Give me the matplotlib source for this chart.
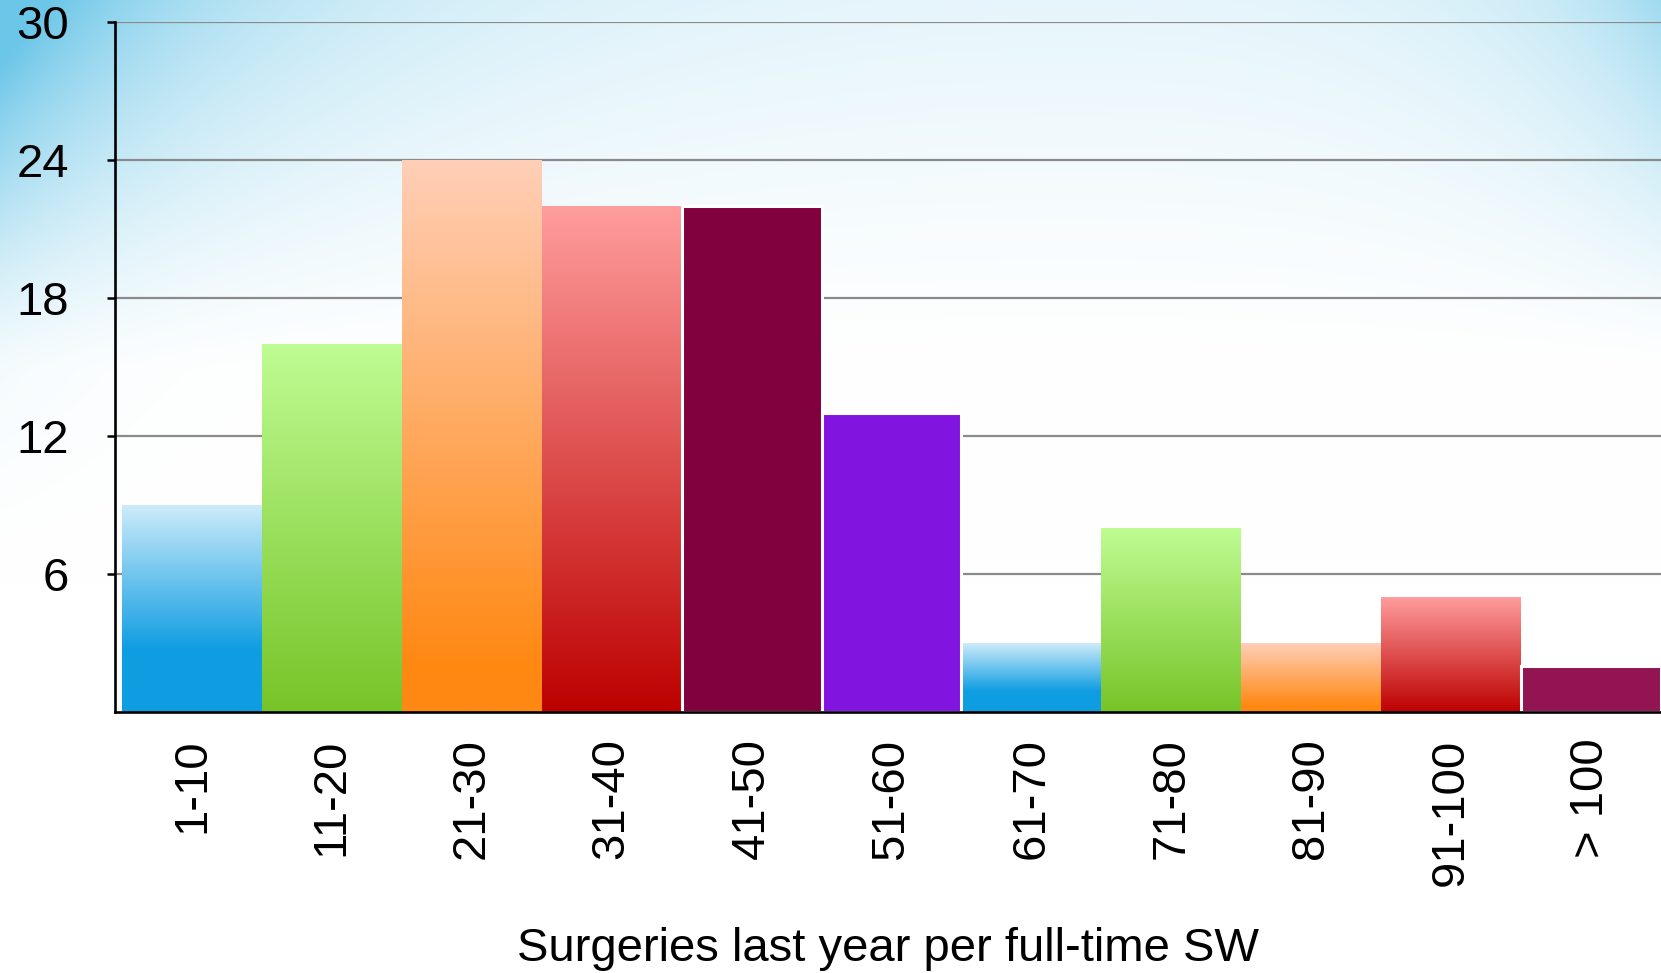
import numpy as np
import matplotlib
matplotlib.use("Agg")
import matplotlib.pyplot as plt
from matplotlib.colors import LinearSegmentedColormap, to_rgb

plt.rcParams['font.family'] = ['Liberation Sans', 'DejaVu Sans']

# data
categories = ['1-10', '11-20', '21-30', '31-40', '41-50', '51-60',
              '61-70', '71-80', '81-90', '91-100', '> 100']
counts = [9, 16, 24, 22, 22, 13, 3, 8, 3, 5, 2]
yticks = [6, 12, 18, 24, 30]
xlabel = 'Surgeries last year per full-time SW'

# fill styles: gradient (top, bottom, solid fraction) or a solid colour
gradients = {
    'blue': ('#cdebfa', '#0f9de2', 0.30),
    'green': ('#bffc93', '#77c428', 0.0),
    'orange': ('#ffcfb7', '#ff8812', 0.08),
    'red': ('#ff9d9d', '#bd0000', 0.0),
}
styles = ['blue', 'green', 'orange', 'red', '#81003e', '#8214e0',
          'blue', 'green', 'orange', 'red', '#931452']

fig = plt.figure(figsize=(16.61, 9.73), dpi=100)

# background wash
bg = fig.add_axes([0, 0, 1, 1], zorder=-5)
H, W = 300, 500
yy, xx = np.mgrid[0:H, 0:W] / np.array([H, W])[:, None, None]
top = np.clip(1 - yy / 0.38, 0, 1) ** 1.3
left = np.exp(-xx / 0.15)
right = np.exp(-(1 - xx) / 0.08)
alpha = top * np.clip(0.15 + 0.8 * left + 0.5 * right, 0, 1)
alpha += np.clip(1 - yy / 0.6, 0, 1) ** 1.5 * np.exp(-xx / 0.07) * 0.3
alpha = np.clip(alpha, 0, 1)
blue = np.array(to_rgb('#6cc6e8'))
img = np.ones((H, W, 3)) * (1 - alpha[..., None]) + blue * alpha[..., None]
bg.imshow(img, extent=(0, 1, 0, 1), aspect='auto', interpolation='bilinear')
bg.set_axis_off()

ax = fig.add_axes([115 / 1661, 1 - 712 / 973, 1 - 115 / 1661, 690 / 973])
ax.set_facecolor('none')

x = np.arange(len(categories))
for xi, h, st in zip(x, counts, styles):
    if st in gradients:
        c_top, c_bot, solid = gradients[st]
        bar = ax.bar(xi, h, width=1.0, color=c_bot, linewidth=0, zorder=3)[0]
        cmap = LinearSegmentedColormap.from_list(
            st, [(0, c_bot), (solid, c_bot), (1, c_top)])
        grad = np.linspace(0, 1, 256)[:, None]
        im = ax.imshow(grad, cmap=cmap, origin='lower', aspect='auto',
                       extent=(xi - 0.5, xi + 0.5, 0, h), zorder=3.5,
                       interpolation='bilinear')
        im.set_clip_path(bar)
    else:
        ax.bar(xi, h, width=1.0, color=st, edgecolor='white',
               linewidth=2.2, zorder=4)

ax.set_xlim(-0.55, 10.5)
ax.set_ylim(0, 30)
ax.set_yticks(yticks)
ax.set_yticklabels([str(t) for t in yticks])
ax.yaxis.grid(True, color='#8a8a8a', linewidth=1.6)
ax.set_axisbelow(True)

ax.set_xticks(x)
ax.set_xticklabels(categories, rotation=90, va='top', ha='center')
ax.tick_params(axis='x', length=0, pad=19, labelsize=34)
ax.tick_params(axis='y', length=6, width=1.8, pad=27, labelsize=34,
               direction='out')

for side in ['top', 'right']:
    ax.spines[side].set_visible(False)
for side in ['left', 'bottom']:
    ax.spines[side].set_linewidth(1.9)
    ax.spines[side].set_zorder(6)

ax.set_xlabel(xlabel, fontsize=34, va='center')
ax.xaxis.set_label_coords(0.5, -0.343)

fig.savefig('out.png', dpi=100)
